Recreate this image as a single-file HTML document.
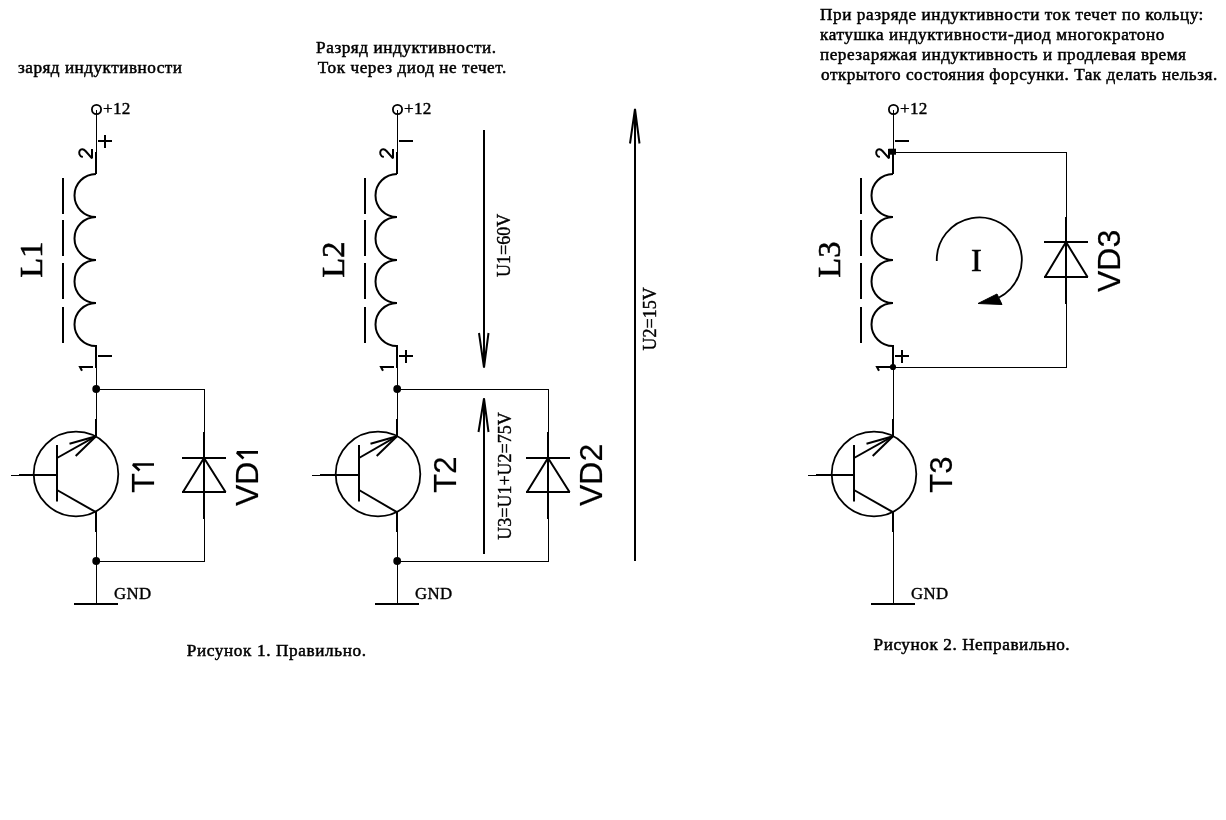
<!DOCTYPE html>
<html><head><meta charset="utf-8"><style>
html,body{margin:0;padding:0;background:#fff;}
svg{display:block;will-change:transform;}
text{fill:#000;stroke:#000;stroke-width:0.45px;}
.body{font-family:"Liberation Serif",serif;font-size:17.2px;stroke-width:0.5px;}
.s17{font-family:"Liberation Serif",serif;font-size:17.2px;stroke-width:0.4px;}
.gnd{font-family:"Liberation Serif",serif;font-size:16.8px;stroke-width:0.4px;}
.s18{font-family:"Liberation Serif",serif;font-size:18px;stroke-width:0.4px;}
.s32{font-family:"Liberation Serif",serif;font-size:32.5px;stroke-width:0.6px;}
.sans{font-family:"Liberation Sans",sans-serif;font-size:32px;stroke-width:0.2px;}
</style></head><body>
<svg width="1226" height="820" viewBox="0 0 1226 820">
<rect width="1226" height="820" fill="#fff"/>
<circle cx="96.5" cy="109.5" r="4.6" fill="none" stroke="#000" stroke-width="1.8"/>
<text x="103" y="114" class="s17" style="letter-spacing:0.25px">+12</text>
<rect x="96.0" y="110" width="1" height="42" fill="#000"/>
<rect x="95.0" y="152" width="2" height="22" fill="#000"/>
<path d="M96,174 A21.5,21.5 0 0 0 96,217 A21.5,21.5 0 0 0 96,260 A21.5,21.5 0 0 0 96,303 A21.5,21.5 0 0 0 96,346 " fill="none" stroke="#000" stroke-width="2"/>
<rect x="62.0" y="178" width="2" height="36" fill="#000"/>
<rect x="62.0" y="220" width="2" height="36" fill="#000"/>
<rect x="62.0" y="263" width="2" height="36" fill="#000"/>
<rect x="62.0" y="307" width="2" height="36" fill="#000"/>
<text transform="translate(42,277.7) rotate(-90)" class="s32">L1</text>
<path transform="translate(0,0)" d="M92,149 V158.3 L85.5,151 C83.5,148.8 81,148.6 79.8,150.5 C78.6,152.5 79,156.3 82.8,157.1" fill="none" stroke="#000" stroke-width="2" stroke-linejoin="bevel"/>
<path transform="translate(0,0)" d="M93,367 H80 L82,370.8" fill="none" stroke="#000" stroke-width="2"/>
<rect x="98" y="140.0" width="14" height="2" fill="#000"/><rect x="104.0" y="135" width="2" height="13" fill="#000"/>
<rect x="98" y="355.0" width="14" height="2" fill="#000"/>
<rect x="95.0" y="345" width="2" height="23" fill="#000"/>
<rect x="96.0" y="368" width="1" height="51" fill="#000"/>
<rect x="95.0" y="419" width="2" height="17.5" fill="#000"/>
<circle cx="76" cy="474" r="42.3" fill="none" stroke="#000" stroke-width="1.8"/>
<rect x="56.0" y="445" width="2" height="56.5" fill="#000"/>
<rect x="11" y="475.0" width="8" height="1" fill="#000"/>
<rect x="19" y="474.0" width="38" height="2" fill="#000"/>
<line x1="57" y1="458" x2="96" y2="436.2" stroke="#000" stroke-width="2"/>
<line x1="96" y1="436.2" x2="69.5" y2="443.8" stroke="#000" stroke-width="2"/>
<line x1="96" y1="436.2" x2="75.7" y2="456" stroke="#000" stroke-width="2"/>
<line x1="57" y1="490" x2="96" y2="512.2" stroke="#000" stroke-width="2"/>
<rect x="95.0" y="512" width="2" height="20" fill="#000"/>
<rect x="96.0" y="532" width="1" height="72" fill="#000"/>
<text transform="translate(154,492.7) rotate(-90)" class="sans">T</text>
<path transform="translate(0,0)" d="M154,464.5 H133 L139.5,470.5" fill="none" stroke="#000" stroke-width="2.7" stroke-linejoin="bevel"/>
<rect x="74" y="603.0" width="44" height="2" fill="#000"/>
<text x="114" y="599" class="gnd" style="letter-spacing:0.4px">GND</text>
<rect x="96" y="389.0" width="109.0" height="1" fill="#000"/>
<rect x="96" y="561.0" width="109.0" height="1" fill="#000"/>
<rect x="204.0" y="389" width="1" height="173" fill="#000"/>
<circle cx="96.2" cy="389" r="3.9" fill="#000"/>
<circle cx="96.2" cy="561" r="3.9" fill="#000"/>
<rect x="203.0" y="432" width="2" height="87" fill="#000"/>
<rect x="182" y="457.0" width="44" height="2" fill="#000"/>
<path d="M204,458 L183,492 L225.5,492 Z" fill="none" stroke="#000" stroke-width="2" stroke-linejoin="bevel"/>
<rect x="182" y="491.0" width="44" height="2" fill="#000"/>
<text transform="translate(258,506) rotate(-90)" class="sans">VD</text>
<path transform="translate(0,0)" d="M258,452.4 H237 L243.5,458.4" fill="none" stroke="#000" stroke-width="2.7" stroke-linejoin="bevel"/>
<circle cx="397.5" cy="109.5" r="4.6" fill="none" stroke="#000" stroke-width="1.8"/>
<text x="404" y="114" class="s17" style="letter-spacing:0.25px">+12</text>
<rect x="397.0" y="110" width="1" height="42" fill="#000"/>
<rect x="396.0" y="152" width="2" height="22" fill="#000"/>
<path d="M397,174 A21.5,21.5 0 0 0 397,217 A21.5,21.5 0 0 0 397,260 A21.5,21.5 0 0 0 397,303 A21.5,21.5 0 0 0 397,346 " fill="none" stroke="#000" stroke-width="2"/>
<rect x="364.0" y="178" width="2" height="36" fill="#000"/>
<rect x="364.0" y="220" width="2" height="36" fill="#000"/>
<rect x="364.0" y="263" width="2" height="36" fill="#000"/>
<rect x="364.0" y="307" width="2" height="36" fill="#000"/>
<text transform="translate(344,277.7) rotate(-90)" class="s32">L2</text>
<path transform="translate(301,0)" d="M92,149 V158.3 L85.5,151 C83.5,148.8 81,148.6 79.8,150.5 C78.6,152.5 79,156.3 82.8,157.1" fill="none" stroke="#000" stroke-width="2" stroke-linejoin="bevel"/>
<path transform="translate(301,0)" d="M93,367 H80 L82,370.8" fill="none" stroke="#000" stroke-width="2"/>
<rect x="399" y="140.0" width="14" height="2" fill="#000"/>
<rect x="399" y="355.0" width="14" height="2" fill="#000"/><rect x="405.0" y="350" width="2" height="13" fill="#000"/>
<rect x="396.0" y="345" width="2" height="23" fill="#000"/>
<rect x="397.0" y="368" width="1" height="51" fill="#000"/>
<rect x="396.0" y="419" width="2" height="17.5" fill="#000"/>
<circle cx="378" cy="474" r="42.3" fill="none" stroke="#000" stroke-width="1.8"/>
<rect x="358.0" y="445" width="2" height="56.5" fill="#000"/>
<rect x="312" y="475.0" width="8" height="1" fill="#000"/>
<rect x="320" y="474.0" width="39" height="2" fill="#000"/>
<line x1="359" y1="458" x2="397" y2="436.2" stroke="#000" stroke-width="2"/>
<line x1="397" y1="436.2" x2="370.5" y2="443.8" stroke="#000" stroke-width="2"/>
<line x1="397" y1="436.2" x2="376.7" y2="456" stroke="#000" stroke-width="2"/>
<line x1="359" y1="490" x2="397" y2="512.2" stroke="#000" stroke-width="2"/>
<rect x="396.0" y="512" width="2" height="20" fill="#000"/>
<rect x="397.0" y="532" width="1" height="72" fill="#000"/>
<text transform="translate(456,492.7) rotate(-90) scale(0.97,1)" class="sans">T2</text>
<rect x="375" y="603.0" width="44" height="2" fill="#000"/>
<text x="415" y="599" class="gnd" style="letter-spacing:0.4px">GND</text>
<rect x="397" y="389.0" width="152.0" height="1" fill="#000"/>
<rect x="397" y="561.0" width="152.0" height="1" fill="#000"/>
<rect x="548.0" y="389" width="1" height="173" fill="#000"/>
<circle cx="397.2" cy="389" r="3.9" fill="#000"/>
<circle cx="397.2" cy="561" r="3.9" fill="#000"/>
<rect x="547.0" y="432" width="2" height="87" fill="#000"/>
<rect x="526" y="457.0" width="44" height="2" fill="#000"/>
<path d="M548,458 L527,492 L569.5,492 Z" fill="none" stroke="#000" stroke-width="2" stroke-linejoin="bevel"/>
<rect x="526" y="491.0" width="44" height="2" fill="#000"/>
<text transform="translate(602,506) rotate(-90)" class="sans">VD2</text>
<circle cx="893.5" cy="109.5" r="4.6" fill="none" stroke="#000" stroke-width="1.8"/>
<text x="900" y="114" class="s17" style="letter-spacing:0.25px">+12</text>
<rect x="893.0" y="110" width="1" height="42" fill="#000"/>
<rect x="892.0" y="152" width="2" height="22" fill="#000"/>
<path d="M893,174 A21.5,21.5 0 0 0 893,217 A21.5,21.5 0 0 0 893,260 A21.5,21.5 0 0 0 893,303 A21.5,21.5 0 0 0 893,346 " fill="none" stroke="#000" stroke-width="2"/>
<rect x="860.0" y="178" width="2" height="36" fill="#000"/>
<rect x="860.0" y="220" width="2" height="36" fill="#000"/>
<rect x="860.0" y="263" width="2" height="36" fill="#000"/>
<rect x="860.0" y="307" width="2" height="36" fill="#000"/>
<text transform="translate(840,277.7) rotate(-90)" class="s32">L3</text>
<path transform="translate(797,0)" d="M92,149 V158.3 L85.5,151 C83.5,148.8 81,148.6 79.8,150.5 C78.6,152.5 79,156.3 82.8,157.1" fill="none" stroke="#000" stroke-width="2" stroke-linejoin="bevel"/>
<path transform="translate(797,0)" d="M93,367 H80 L82,370.8" fill="none" stroke="#000" stroke-width="2"/>
<rect x="895" y="140.0" width="14" height="2" fill="#000"/>
<rect x="895" y="355.0" width="14" height="2" fill="#000"/><rect x="901.0" y="350" width="2" height="13" fill="#000"/>
<rect x="892.0" y="345" width="2" height="23" fill="#000"/>
<rect x="893.0" y="368" width="1" height="51" fill="#000"/>
<rect x="892.0" y="419" width="2" height="17.5" fill="#000"/>
<circle cx="874" cy="474" r="42.3" fill="none" stroke="#000" stroke-width="1.8"/>
<rect x="853.0" y="445" width="2" height="56.5" fill="#000"/>
<rect x="808" y="475.0" width="8" height="1" fill="#000"/>
<rect x="816" y="474.0" width="38" height="2" fill="#000"/>
<line x1="854" y1="458" x2="893" y2="436.2" stroke="#000" stroke-width="2"/>
<line x1="893" y1="436.2" x2="866.5" y2="443.8" stroke="#000" stroke-width="2"/>
<line x1="893" y1="436.2" x2="872.7" y2="456" stroke="#000" stroke-width="2"/>
<line x1="854" y1="490" x2="893" y2="512.2" stroke="#000" stroke-width="2"/>
<rect x="892.0" y="512" width="2" height="20" fill="#000"/>
<rect x="893.0" y="532" width="1" height="72" fill="#000"/>
<text transform="translate(952,492.7) rotate(-90) scale(0.97,1)" class="sans">T3</text>
<rect x="871" y="603.0" width="44" height="2" fill="#000"/>
<text x="911" y="599" class="gnd" style="letter-spacing:0.4px">GND</text>
<rect x="893" y="152.0" width="174" height="1" fill="#000"/>
<rect x="1066.0" y="152" width="1" height="216" fill="#000"/>
<rect x="893" y="367.0" width="174" height="1" fill="#000"/>
<rect x="888.5" y="148.7" width="7.5" height="6" fill="#000"/>
<circle cx="893" cy="367" r="3.1" fill="#000"/>
<rect x="1065.0" y="217" width="2" height="87" fill="#000"/>
<rect x="1044" y="241.0" width="44" height="2" fill="#000"/>
<path d="M1066,242 L1045,277 L1087.5,277 Z" fill="none" stroke="#000" stroke-width="2" stroke-linejoin="bevel"/>
<rect x="1044" y="276.0" width="44" height="2" fill="#000"/>
<text transform="translate(1120,292) rotate(-90)" class="sans">VD3</text>
<path d="M936.8,261 A42.5,42.5 0 1 1 999,297.5" fill="none" stroke="#000" stroke-width="1.8"/>
<path d="M978,303.5 L1002,304.5 L997,294 Z" fill="#000" stroke="#000" stroke-width="1"/>
<text x="971" y="271" class="s32">I</text>
<rect x="483.0" y="130" width="2" height="237" fill="#000"/>
<path d="M479,333 L484,367.5 L488.5,333" fill="none" stroke="#000" stroke-width="2"/>
<text transform="translate(510,277) rotate(-90)" class="s18">U1=60V</text>
<rect x="634.0" y="109" width="2" height="452" fill="#000"/>
<path d="M630,143.5 L635,109 L639.5,143.5" fill="none" stroke="#000" stroke-width="2"/>
<text transform="translate(656.4,350.5) rotate(-90)" class="s18">U2=15V</text>
<rect x="483.0" y="398.5" width="2" height="155.5" fill="#000"/>
<path d="M478.5,432 L484,398.5 L488.5,432" fill="none" stroke="#000" stroke-width="2"/>
<text transform="translate(511,539.7) rotate(-90)" class="s18">U3=U1+U2=75V</text>
<text x="18" y="73" class="body" style="letter-spacing:0.489px">заряд индуктивности</text>
<text x="316.1" y="53" class="body" style="letter-spacing:0.55px">Разряд индуктивности.</text>
<text x="317.8" y="73" class="body" style="letter-spacing:0.548px">Ток через диод не течет.</text>
<text x="820.1" y="20" class="body" style="letter-spacing:0.556px">При разряде индуктивности ток течет по кольцу:</text>
<text x="820" y="40" class="body" style="letter-spacing:0.584px">катушка индуктивности-диод многократоно</text>
<text x="820" y="60" class="body" style="letter-spacing:0.495px">перезаряжая индуктивность и продлевая время</text>
<text x="821" y="80" class="body" style="letter-spacing:0.513px">открытого состояния форсунки. Так делать нельзя.</text>
<text x="186.7" y="656" class="body" style="letter-spacing:0.63px">Рисунок 1. Правильно.</text>
<text x="873.5" y="650" class="body" style="letter-spacing:0.568px">Рисунок 2. Неправильно.</text>
</svg>
</body></html>
